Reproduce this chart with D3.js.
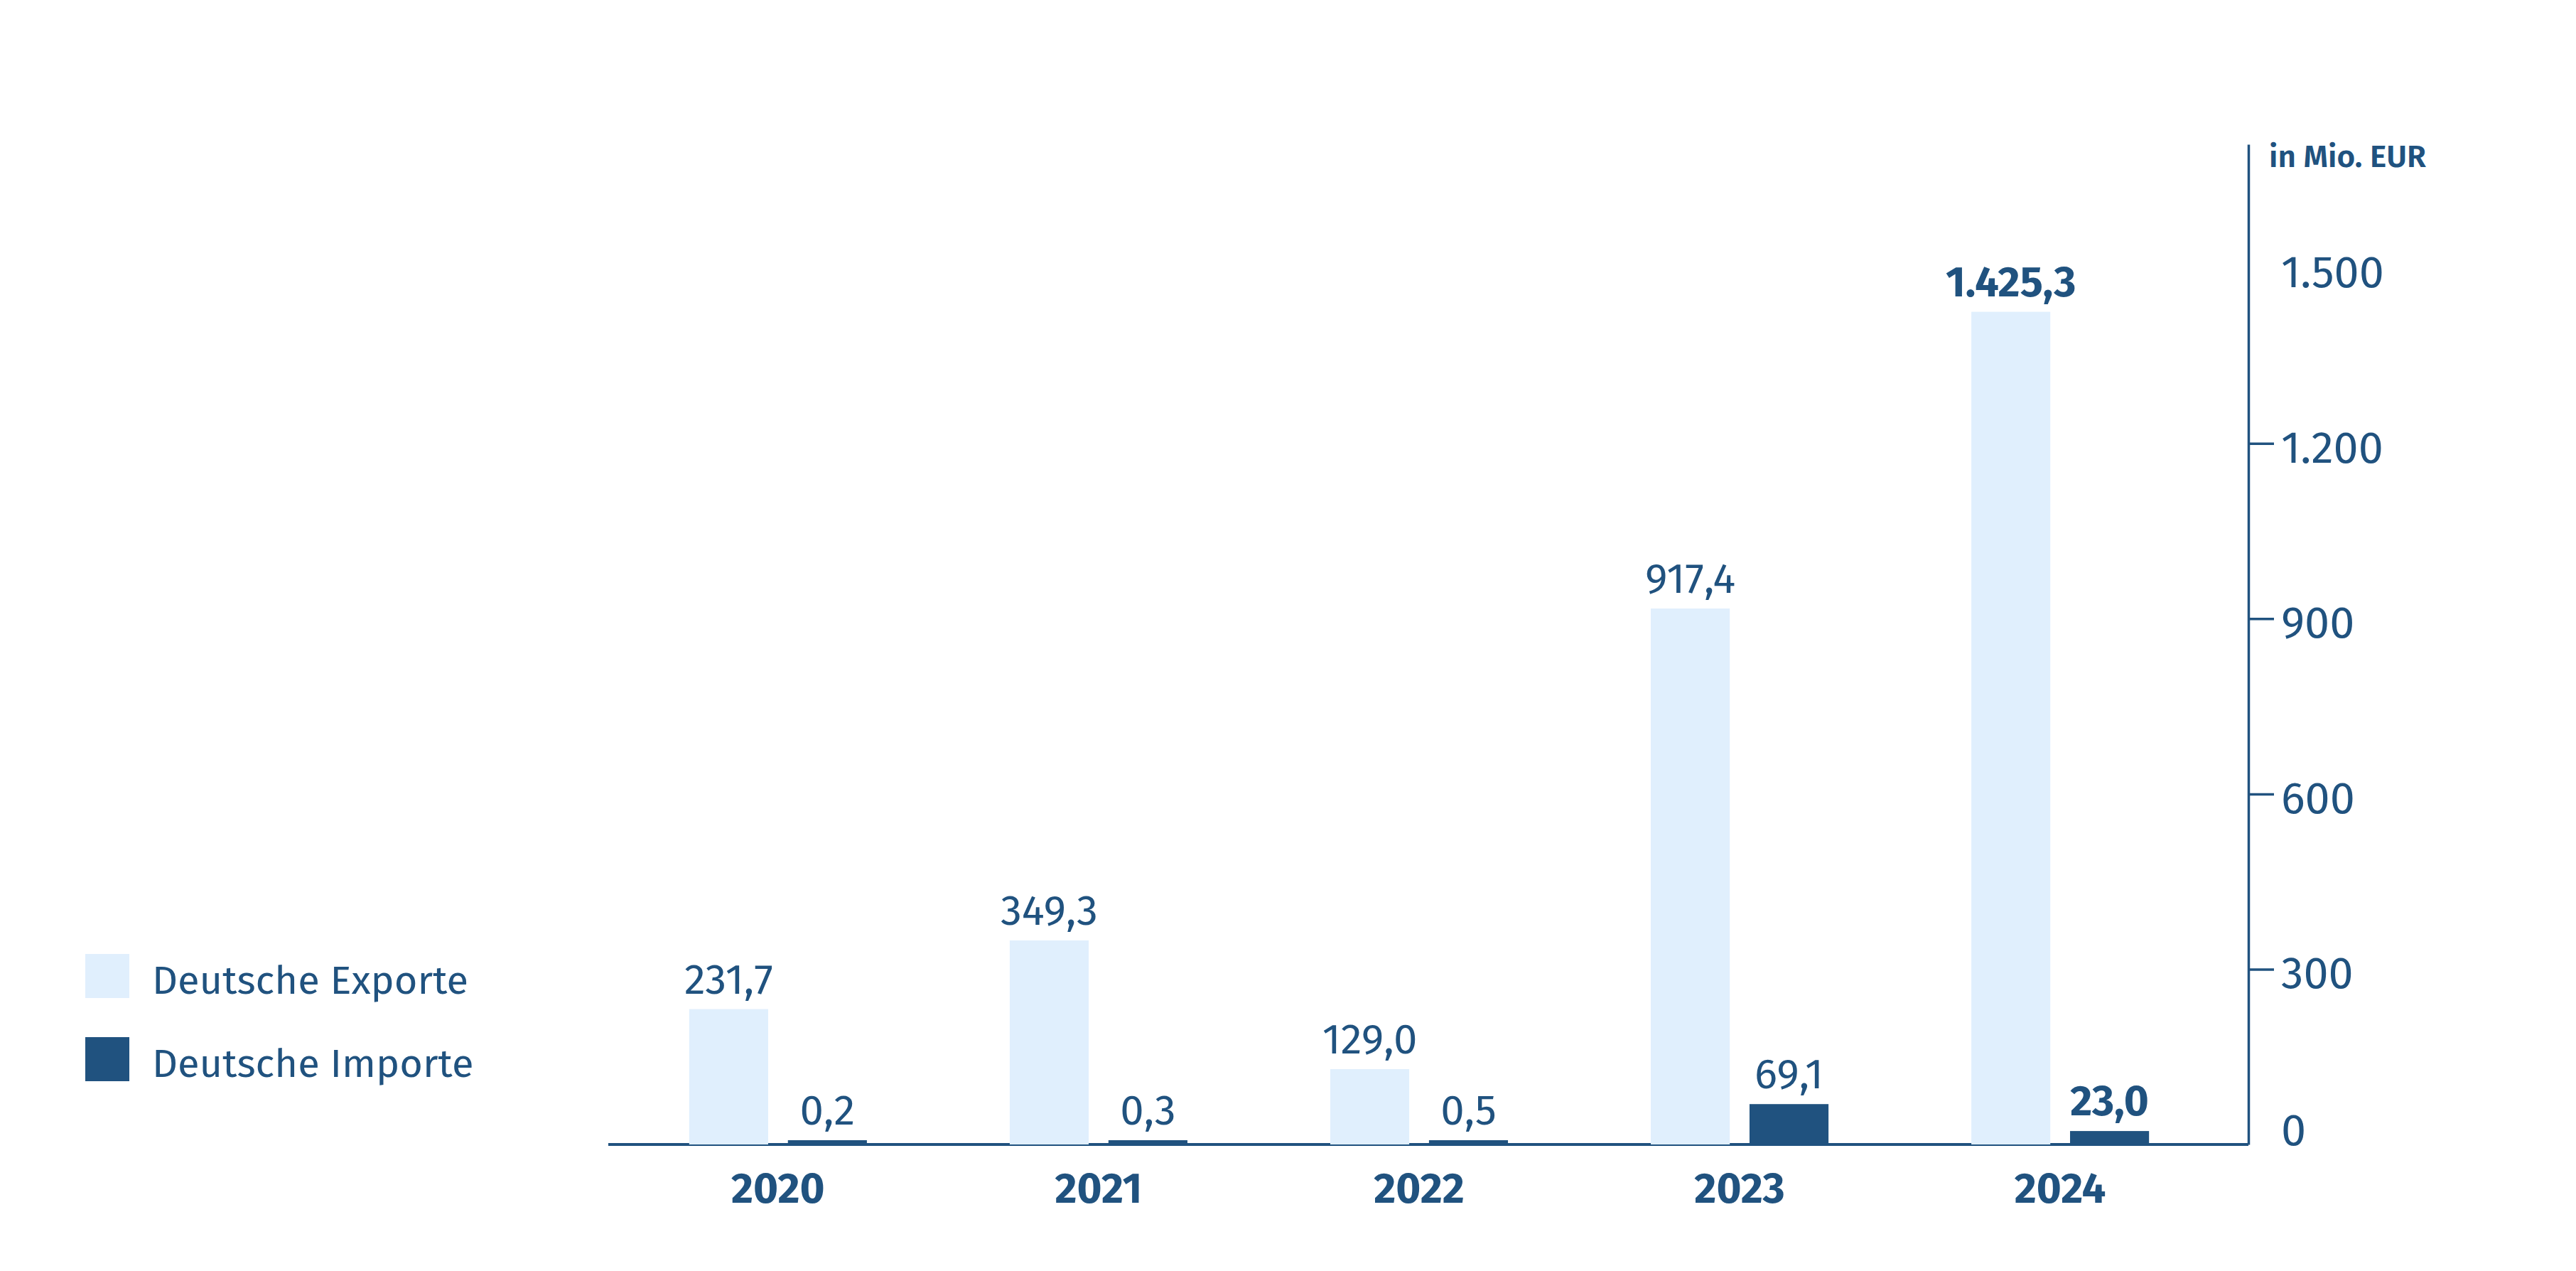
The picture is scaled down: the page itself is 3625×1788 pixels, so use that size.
<!DOCTYPE html>
<html lang="de">
<head>
<meta charset="utf-8">
<script src="https://cdn.jsdelivr.net/npm/d3@7"></script>
<style>
    html, body { margin: 0; padding: 0; background: #fff; }
    svg text { font-family: "Fira Sans", "Open Sans", sans-serif; fill: #20527f; }
</style>
</head>
<body>
<div id="chart"></div>
<script>
// values (Mio. EUR)
const years = ['2020', '2021', '2022', '2023', '2024'];
const exporte = [231.7, 349.3, 129.0, 917.4, 1425.3];
const importe = [0.2, 0.3, 0.5, 69.1, 23.0];
const seriesNames = ['Deutsche Exporte', 'Deutsche Importe'];
const yTicks = [0, 300, 600, 900, 1200, 1500];
const unitLabel = 'in Mio. EUR';

const svgwidth = 3625;
const svgheight = 1788;
const dark = '#20527f';
const light = '#e0effd';
const colors = [light, dark];

const de = d3.formatLocale({ decimal: ',', thousands: '.', grouping: [3], currency: ['', ' €'] });
const fmtValue = de.format(',.1f');
const fmtTick = de.format(',.0f');

const rows = years.map((y, i) => ({
    year: y,
    values: [exporte[i], importe[i]]
}));

const svg = d3.select('#chart')
    .append('svg')
    .attr('width', svgwidth)
    .attr('height', svgheight);

const baseY = 1610;
const axisX = 3164;

// y scale, axis runs a little above the last tick
const yscale = d3.scaleLinear()
    .domain([0, 1712])
    .range([baseY, 203]);

const xscale = d3.scaleBand()
    .domain(years)
    .range([830, axisX])
    .paddingInner(0.4456)
    .paddingOuter(0.31);

const xinner = d3.scaleBand()
    .domain([0, 1])
    .range([0, xscale.bandwidth()])
    .paddingInner(0.2);

// baseline
svg.append('line')
    .attr('x1', 856)
    .attr('x2', axisX)
    .attr('y1', baseY)
    .attr('y2', baseY)
    .attr('stroke', dark)
    .attr('stroke-width', 4);

// bars
const groups = svg.selectAll('.year')
    .data(rows)
    .enter()
    .append('g')
    .attr('class', 'year')
    .attr('transform', d => `translate(${xscale(d.year)},0)`);

groups.selectAll('rect')
    .data(d => d.values)
    .enter()
    .append('rect')
    .attr('x', (v, j) => xinner(j))
    .attr('width', xinner.bandwidth())
    .attr('y', v => baseY - Math.max(baseY - yscale(v), 6))
    .attr('height', v => Math.max(baseY - yscale(v), 6))
    .attr('fill', (v, j) => colors[j]);

// value labels
groups.selectAll('.val')
    .data((d, i) => d.values.map(v => ({ v: v, last: i === years.length - 1 })))
    .enter()
    .append('text')
    .attr('class', 'val')
    .attr('x', (d, j) => xinner(j) + xinner.bandwidth() / 2)
    .attr('y', d => baseY - Math.max(baseY - yscale(d.v), 6) - 22)
    .attr('text-anchor', 'middle')
    .style('font-size', '60px')
    .style('font-weight', d => d.last ? 700 : 400)
    .text(d => fmtValue(d.v));

// year labels
groups.append('text')
    .attr('x', xscale.bandwidth() / 2)
    .attr('y', 1692)
    .attr('text-anchor', 'middle')
    .style('font-size', '60px')
    .style('font-weight', 700)
    .text(d => d.year);

// right axis
const yaxis = d3.axisRight(yscale)
    .tickValues(yTicks)
    .tickSize(36)
    .tickSizeOuter(0)
    .tickPadding(10)
    .tickFormat(fmtTick);

const ag = svg.append('g')
    .attr('transform', `translate(${axisX},0)`)
    .call(yaxis);

ag.select('.domain')
    .attr('stroke', dark)
    .attr('stroke-width', 3.5);

ag.selectAll('.tick line')
    .attr('stroke', dark)
    .attr('stroke-width', 3.5)
    .attr('opacity', d => (d === 0 || d === 1500) ? 0 : 1);

ag.selectAll('.tick text')
    .attr('fill', dark)
    .style('font-family', '"Fira Sans", "Open Sans", sans-serif')
    .style('font-size', '63px')
    .attr('dy', d => d === 0 ? '0em' : '0.42em');

svg.append('text')
    .attr('x', 3193)
    .attr('y', 235)
    .style('font-size', '44px')
    .style('font-weight', 600)
    .text(unitLabel);

// legend
const legend = svg.selectAll('.legend')
    .data(seriesNames)
    .enter()
    .append('g')
    .attr('class', 'legend')
    .attr('transform', (d, i) => `translate(120, ${1342 + i * 117})`);

legend.append('rect')
    .attr('width', 62)
    .attr('height', 62)
    .attr('fill', (d, i) => colors[i]);

legend.append('text')
    .attr('x', 94)
    .attr('y', 56)
    .style('font-size', '56px')
    .text(d => d);
</script>
</body>
</html>
